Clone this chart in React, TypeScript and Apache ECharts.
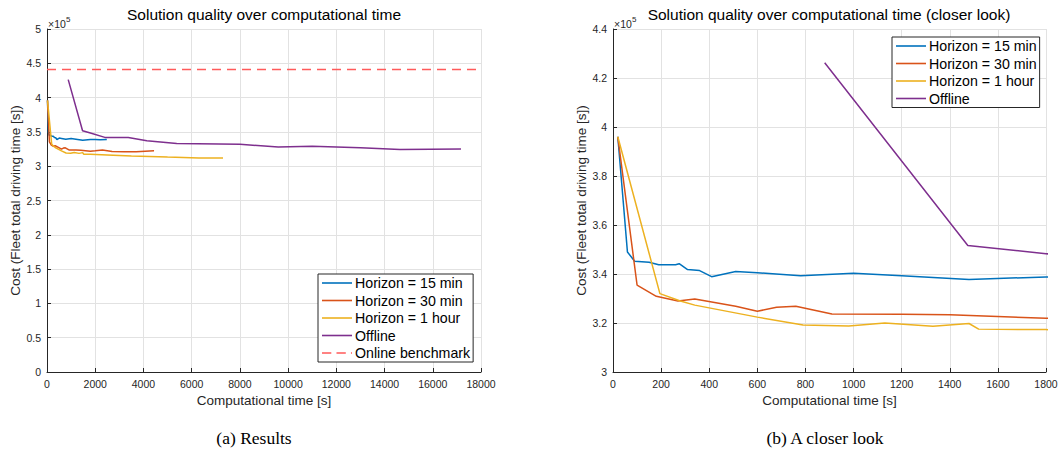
import React, { useEffect, useRef } from "react";
import * as echarts from "echarts";

// Cost values are in units of 1e5 seconds (axis shows ×10^5)
const h15Time = [20, 60, 90, 150, 190, 260, 275, 310, 360, 410, 510, 600, 780, 1000, 1200, 1480, 1800, 2000, 2200, 2480];
const h15Cost = [3.96, 3.49, 3.452, 3.448, 3.438, 3.438, 3.442, 3.418, 3.414, 3.389, 3.41, 3.405, 3.393, 3.403, 3.393, 3.378, 3.388, 3.39, 3.385, 3.39];

const h30Time = [20, 100, 180, 270, 340, 510, 600, 680, 760, 910, 1200, 1400, 1800, 2000, 2300, 2700, 3200, 3700, 4440];
const h30Cost = [3.96, 3.355, 3.309, 3.29, 3.298, 3.268, 3.248, 3.264, 3.268, 3.237, 3.236, 3.234, 3.219, 3.225, 3.235, 3.215, 3.21, 3.212, 3.224];

const h60Time = [20, 195, 280, 340, 600, 790, 980, 1130, 1330, 1480, 1520, 1800, 2500, 3500, 5000, 6300, 7300];
const h60Cost = [3.96, 3.32, 3.29, 3.273, 3.224, 3.192, 3.188, 3.2, 3.187, 3.198, 3.175, 3.173, 3.165, 3.15, 3.133, 3.12, 3.12];

const offTime = [880, 1475, 1800, 2400, 3370, 4140, 5380, 8000, 9590, 11000, 13000, 14640, 17170];
const offCost = [4.262, 3.516, 3.483, 3.42, 3.42, 3.37, 3.33, 3.32, 3.28, 3.29, 3.27, 3.245, 3.25];

const benchTime = [0, 18000];
const benchCost = [4.41, 4.41];

const seriesNames = ["Horizon = 15 min", "Horizon = 30 min", "Horizon = 1 hour", "Offline", "Online benchmark"];
const seriesColors = ["#0072BD", "#D95319", "#EDB120", "#7E2F8E", "#ff5a5a"];

const FONT = "'Liberation Sans', Arial, Helvetica, sans-serif";
const SERIF = "'Liberation Serif', 'Times New Roman', serif";
const zip = (xs: number[], ys: number[]) => xs.map((x, i) => [x, ys[i]]);

const SOLID_ICON = "path://M0,0h30v1.6h-30z";
const DASH_ICON = "path://M1,0h9v1.6h-9zM15,0h9v1.6h-9zM29,0h1v1.6h-1z";

const axisCommon = {
  type: "value" as const,
  nameLocation: "middle" as const,
  nameTextStyle: { fontSize: 13.5, color: "#262626", fontFamily: FONT },
  axisLine: { show: true, onZero: false, lineStyle: { color: "#262626", width: 1 } },
  axisTick: { show: true, inside: true, length: 4, lineStyle: { color: "#262626" } },
  axisLabel: { fontSize: 10.5, color: "#262626", fontFamily: FONT, margin: 6, formatter: (v: number) => String(Math.round(v * 1000) / 1000) },
  splitLine: { show: true, lineStyle: { color: "#e2e2e2", width: 1 } },
};

export default function App() {
  const ref = useRef<HTMLDivElement>(null);
  useEffect(() => {
    const chart = echarts.init(ref.current!, null, { renderer: "svg" });
    const data = [zip(h15Time, h15Cost), zip(h30Time, h30Cost), zip(h60Time, h60Cost), zip(offTime, offCost), zip(benchTime, benchCost)];
    const series: any[] = [];
    for (let g = 0; g < 2; g++) {
      const count = g === 0 ? 5 : 4;
      for (let i = 0; i < count; i++) {
        series.push({
          type: "line",
          name: seriesNames[i],
          xAxisIndex: g,
          yAxisIndex: g,
          data: data[i],
          symbol: "none",
          silent: true,
          clip: true,
          color: seriesColors[i],
          lineStyle: { color: seriesColors[i], width: 1.5, type: i === 4 ? [9, 6] : "solid" },
        });
      }
    }
    const legendItems = seriesNames.map((n, i) => ({ name: n, icon: i === 4 ? DASH_ICON : SOLID_ICON }));
    const legendCommon = {
      orient: "vertical" as const,
      itemWidth: 30,
      itemHeight: 14,
      itemGap: 3.5,
      padding: [2, 3, 2, 4],
      borderColor: "#262626",
      borderWidth: 1,
      borderRadius: 0,
      backgroundColor: "#fff",
      selectedMode: false,
      symbolKeepAspect: true,
      textStyle: { fontSize: 14.2, color: "#000", fontFamily: FONT, padding: [0, 0, 0, -2] },
    };
    const yName = "Cost (Fleet total driving time [s])";
    const xName = "Computational time [s]";
    chart.setOption({
      animation: false,
      backgroundColor: "#fff",
      grid: [
        { left: 47, top: 29, width: 434, height: 343 },
        { left: 613, top: 29, width: 433, height: 343 },
      ],
      xAxis: [
        { ...axisCommon, gridIndex: 0, min: 0, max: 18000, interval: 2000, name: xName, nameGap: 21 },
        { ...axisCommon, gridIndex: 1, min: 0, max: 1800, interval: 200, name: xName, nameGap: 21 },
      ],
      yAxis: [
        { ...axisCommon, gridIndex: 0, min: 0, max: 5, interval: 0.5, name: yName, nameGap: 22 },
        { ...axisCommon, gridIndex: 1, min: 3, max: 4.4, interval: 0.2, name: yName, nameGap: 22 },
      ],
      legend: [
        { ...legendCommon, data: legendItems, left: 318, top: 274 },
        { ...legendCommon, data: legendItems.slice(0, 4), left: 892, top: 37 },
      ],
      series,
      graphic: [
        { type: "text", x: 264, y: 14, style: { text: "Solution quality over computational time", fontSize: 15.5, fontFamily: FONT, fill: "#000", align: "center", verticalAlign: "middle" } },
        { type: "text", x: 829, y: 14, style: { text: "Solution quality over computational time (closer look)", fontSize: 15.5, fontFamily: FONT, fill: "#000", align: "center", verticalAlign: "middle" } },
        { type: "text", x: 48, y: 24, style: { text: "×10", fontSize: 10.5, fontFamily: FONT, fill: "#262626", align: "left", verticalAlign: "middle" } },
        { type: "text", x: 66, y: 19, style: { text: "5", fontSize: 8, fontFamily: FONT, fill: "#262626", align: "left", verticalAlign: "middle" } },
        { type: "text", x: 614, y: 24, style: { text: "×10", fontSize: 10.5, fontFamily: FONT, fill: "#262626", align: "left", verticalAlign: "middle" } },
        { type: "text", x: 632, y: 19, style: { text: "5", fontSize: 8, fontFamily: FONT, fill: "#262626", align: "left", verticalAlign: "middle" } },
        { type: "text", x: 254, y: 438, style: { text: "(a) Results", fontSize: 17.5, fontFamily: SERIF, fill: "#000", align: "center", verticalAlign: "middle" } },
        { type: "text", x: 825, y: 438, style: { text: "(b) A closer look", fontSize: 17.5, fontFamily: SERIF, fill: "#000", align: "center", verticalAlign: "middle" } },
      ],
    });
    return () => chart.dispose();
  }, []);
  return <div ref={ref} style={{ position: "fixed", left: 0, top: 0, width: 1064, height: 455, background: "#fff" }} />;
}
